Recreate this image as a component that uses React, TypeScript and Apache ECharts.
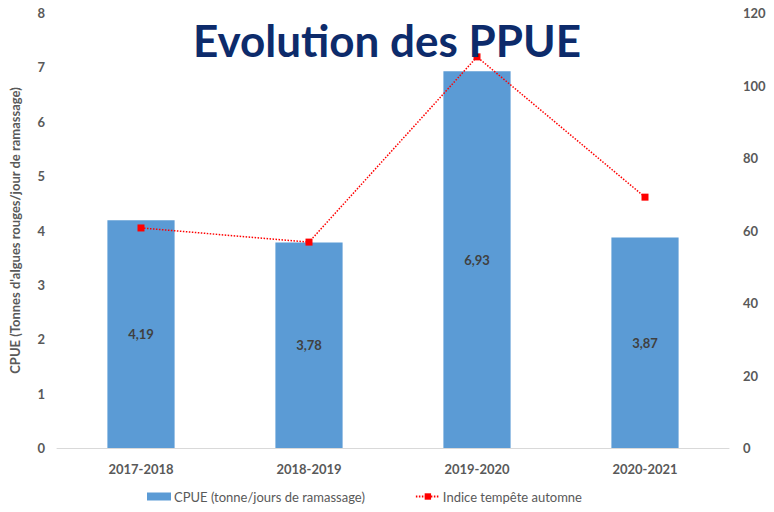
import React, { useEffect, useRef } from "react";
import * as echarts from "echarts";

const categories = ["2017-2018", "2018-2019", "2019-2020", "2020-2021"];
const cpueValues = [4.19, 3.78, 6.93, 3.87];
const stormIndex = [60.7, 56.8, 107.9, 69.2];
const cpueName = "CPUE (tonne/jours de ramassage)";
const stormName = "Indice tempête automne";
const leftAxisName = "CPUE (Tonnes d'algues rouges/jour de ramassage)";
const titleText = "Evolution des PPUE";

export default function App() {
  const ref = useRef<HTMLDivElement>(null);
  useEffect(() => {
    if (!ref.current) return;
    const chart = echarts.init(ref.current, undefined, { renderer: "svg" });
    const font = "Lato, 'Open Sans', sans-serif";
    chart.setOption({
      animation: false,
      textStyle: { fontFamily: font },
      title: {
        text: titleText,
        left: "center",
        top: 13,
        textStyle: { color: "#0D2B6B", fontSize: 44, fontWeight: "bold", fontFamily: font },
      },
      legend: {
        bottom: 4,
        left: 142,
        itemGap: 50,
        itemWidth: 24,
        itemHeight: 8,
        textStyle: { color: "#595959", fontSize: 13, fontFamily: font, padding: [0, 0, 0, -2] },
        data: [
          { name: cpueName, icon: "rect" },
          { name: stormName },
        ],
      },
      grid: { left: 57, right: 45, top: 13, bottom: 64, containLabel: false },
      xAxis: {
        type: "category",
        data: categories,
        axisLine: { lineStyle: { color: "#D9D9D9" } },
        axisTick: { show: false },
        axisLabel: { color: "#595959", fontSize: 13, fontWeight: "bold", margin: 14, fontFamily: font },
      },
      yAxis: [
        {
          type: "value",
          min: 0,
          max: 8,
          interval: 1,
          splitLine: { show: false },
          axisLine: { show: false },
          axisTick: { show: false },
          axisLabel: { color: "#595959", fontSize: 13, fontWeight: "bold", margin: 12, fontFamily: font },
          name: leftAxisName,
          nameLocation: "middle",
          nameRotate: 90,
          nameGap: 36,
          nameTextStyle: { color: "#595959", fontSize: 13, fontWeight: "bold", fontFamily: font },
        },
        {
          type: "value",
          min: 0,
          max: 120,
          interval: 20,
          splitLine: { show: false },
          axisLine: { show: false },
          axisTick: { show: false },
          axisLabel: { color: "#595959", fontSize: 13, fontWeight: "bold", margin: 14, fontFamily: font },
        },
      ],
      series: [
        {
          name: cpueName,
          type: "bar",
          data: cpueValues,
          barWidth: "40%",
          itemStyle: { color: "#5B9BD5" },
          label: {
            show: true,
            position: "inside",
            color: "#404040",
            fontSize: 13,
            fontWeight: "bold",
            fontFamily: font,
            formatter: (p: any) => String(p.value).replace(".", ","),
          },
        },
        {
          name: stormName,
          type: "line",
          yAxisIndex: 1,
          data: stormIndex,
          symbol: "rect",
          symbolSize: 7,
          lineStyle: { color: "#FF0000", width: 1.5, type: [1.5, 1.5] },
          itemStyle: { color: "#FF0000" },
        },
      ],
    });
    return () => chart.dispose();
  }, []);
  return <div ref={ref} style={{ width: 774, height: 512, position: "absolute", left: 0, top: 0 }} />;
}
